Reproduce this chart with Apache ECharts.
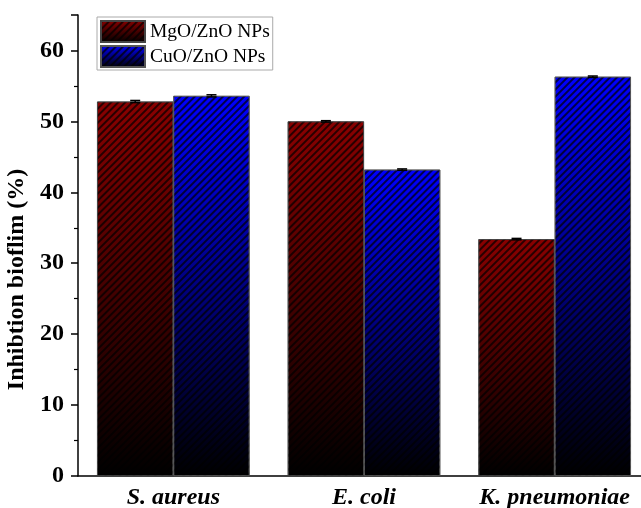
<!DOCTYPE html>
<html>
<head>
<meta charset="utf-8">
<script src="https://cdn.jsdelivr.net/npm/echarts@6/dist/echarts.min.js"></script>
<style>
  html, body { margin: 0; padding: 0; background: #fff; }
  #chart { width: 641px; height: 508px; }
</style>
</head>
<body>
<div id="chart"></div>
<script>
// data
var categories = ['S. aureus', 'E. coli', 'K. pneumoniae'];
var mgo = [52.8, 50.0, 33.4];
var cuo = [53.6, 43.2, 56.3];
var mgoErr = [0.15, 0.1, 0.1];
var cuoErr = [0.15, 0.1, 0.1];

var serif = '"Liberation Serif", "Times New Roman", serif';
var barFrac = 0.40;

function fade(top) {
    return new echarts.graphic.LinearGradient(0, 0, 0, 1, [
        { offset: 0, color: top },
        { offset: 1, color: '#000000' }
    ]);
}

var hatch = {
    symbol: 'rect',
    symbolSize: 1,
    color: 'rgba(0,0,0,0.7)',
    dashArrayX: [1, 0],
    dashArrayY: [1.5, 3],
    rotation: -Math.PI / 4
};

function errorSeries(name, values, errs, side) {
    return {
        name: name + ' err',
        type: 'custom',
        z: 5,
        data: values.map(function (v, i) { return [i, v, errs[i]]; }),
        renderItem: function (params, api) {
            var cat = api.value(0), v = api.value(1), e = api.value(2);
            var bw = api.size([1, 0])[0] * barFrac;
            var hi = api.coord([cat, v + e]);
            var lo = api.coord([cat, v - e]);
            var x = hi[0] + side * bw / 2;
            var cap = 5;
            var st = { stroke: '#000', lineWidth: 1.5 };
            return {
                type: 'group',
                children: [
                    { type: 'line', shape: { x1: x, y1: hi[1], x2: x, y2: lo[1] }, style: st },
                    { type: 'line', shape: { x1: x - cap, y1: hi[1], x2: x + cap, y2: hi[1] }, style: st },
                    { type: 'line', shape: { x1: x - cap, y1: lo[1], x2: x + cap, y2: lo[1] }, style: st }
                ]
            };
        }
    };
}

var chart = echarts.init(document.getElementById('chart'));

var option = {
    animation: false,
    grid: { left: 78, right: -9, top: 15, bottom: 32, containLabel: false, outerBoundsMode: 'none' },
    legend: {
        data: ['MgO/ZnO NPs', 'CuO/ZnO NPs'],
        orient: 'vertical',
        left: 97,
        top: 17,
        padding: [3, 3, 2, 3],
        icon: 'rect',
        itemWidth: 44,
        itemHeight: 21,
        itemGap: 2,
        borderColor: '#aaaaaa',
        borderWidth: 1,
        textStyle: { fontFamily: serif, fontSize: 19.5, color: '#000' }
    },
    xAxis: {
        type: 'category',
        data: categories,
        axisLine: { lineStyle: { color: '#000', width: 1.5 } },
        axisTick: { show: false },
        axisLabel: {
            interval: 0,
            margin: 10,
            fontFamily: serif,
            fontSize: 24,
            fontWeight: 'bold',
            fontStyle: 'italic',
            color: '#000'
        }
    },
    yAxis: {
        type: 'value',
        min: 0,
        max: 65,
        interval: 10,
        name: 'Inhibtion bioflim (%)',
        nameLocation: 'middle',
        nameGap: 49,
        nameTextStyle: {
            fontFamily: serif, fontSize: 24, fontWeight: 'bold', color: '#000',
            padding: [0, 68, 0, 0]
        },
        axisLine: { show: true, lineStyle: { color: '#000', width: 1.5 } },
        axisTick: { show: true, inside: false, length: 7, lineStyle: { color: '#000', width: 1.5 } },
        minorTick: { show: true, splitNumber: 2, length: 4, lineStyle: { color: '#000', width: 1.2 } },
        splitLine: { show: false },
        axisLabel: {
            margin: 14,
            showMaxLabel: false,
            fontFamily: serif,
            fontSize: 24,
            fontWeight: 'bold',
            color: '#000'
        }
    },
    series: [
        {
            name: 'MgO/ZnO NPs',
            type: 'bar',
            barWidth: barFrac * 100 + '%',
            barGap: '0%',
            data: mgo,
            itemStyle: {
                color: fade('#8a0000'),
                borderColor: '#444',
                borderWidth: 0.8,
                decal: hatch
            }
        },
        {
            name: 'CuO/ZnO NPs',
            type: 'bar',
            barWidth: barFrac * 100 + '%',
            barGap: '0%',
            data: cuo,
            itemStyle: {
                color: fade('#0000ff'),
                borderColor: '#555',
                borderWidth: 0.8,
                decal: hatch
            }
        },
        errorSeries('MgO/ZnO NPs', mgo, mgoErr, -1),
        errorSeries('CuO/ZnO NPs', cuo, cuoErr, 1)
    ]
};

chart.setOption(option);
</script>
</body>
</html>
